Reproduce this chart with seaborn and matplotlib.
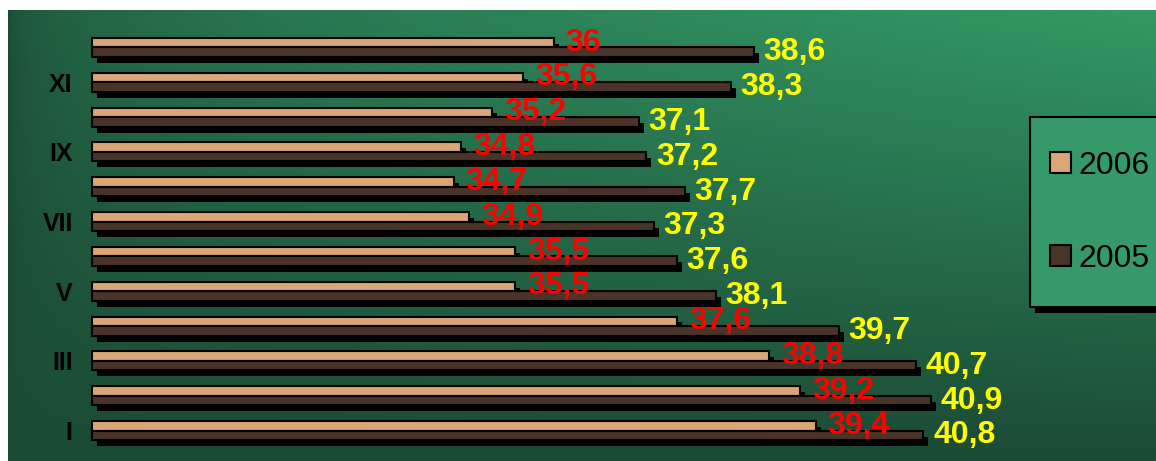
import numpy as np
import pandas as pd
import matplotlib.pyplot as plt
import matplotlib.patheffects as pe
from matplotlib.patches import Patch, Rectangle
import seaborn as sns

# Datos por mes (I..XII)
months = ["I", "II", "III", "IV", "V", "VI", "VII", "VIII", "IX", "X", "XI", "XII"]
v2006 = [39.4, 39.2, 38.8, 37.6, 35.5, 35.5, 34.9, 34.7, 34.8, 35.2, 35.6, 36.0]
v2005 = [40.8, 40.9, 40.7, 39.7, 38.1, 37.6, 37.3, 37.7, 37.2, 37.1, 38.3, 38.6]
years = ["2006", "2005"]

sns.set_style("white")
plt.rcParams['font.family'] = ['Liberation Sans', 'DejaVu Sans']
plt.rcParams['text.color'] = 'black'

tan = '#dba676'
dark = '#4a3328'
sombra = [pe.SimplePatchShadow(offset=(3.6, -4.3), shadow_rgbFace='black', alpha=1), pe.Normal()]

df = pd.DataFrame({
    'mes': months * 2,
    'valor': v2006 + v2005,
    'anio': ['2006'] * 12 + ['2005'] * 12,
})
order = months[::-1]

W, H = 1156, 461
fig = plt.figure(figsize=(W / 100, H / 100), dpi=100)

# fondo verde con degradado
bg = fig.add_axes([8 / W, 0, 1 - 8 / W, 451 / H])
ny, nx = 200, 400
xs = np.linspace(0, 1, nx)[None, :]
ys = np.linspace(0, 1, ny)[:, None]
f = (xs ** 0.4) * (1 - ys)
c0 = np.array([0x1b, 0x4a, 0x34]) / 255
c1 = np.array([0x33, 0x99, 0x66]) / 255
img = c0 + (c1 - c0) * f[..., None]
bg.imshow(img, aspect='auto', extent=(0, 1, 0, 1), origin='upper')
bg.set_axis_off()

ax = fig.add_axes([88 / W, 13 / H, 924 / W, 418 / H])
ax.set_facecolor('none')

sns.barplot(data=df, y='mes', x='valor', hue='anio', order=order,
            hue_order=years, palette={'2006': tan, '2005': dark},
            orient='h', width=0.55, edgecolor='black', linewidth=1.5,
            saturation=1, legend=False, ax=ax)

# las barras arrancan en 30
x0 = 30
for p in ax.patches:
    w = p.get_width()
    p.set_x(x0)
    p.set_width(w - x0)
    p.set_path_effects(sombra)

ax.set_xlim(29.95, 29.95 + 924 / 77)

fmt = lambda v: f"{v:g}".replace('.', ',')
lab06 = [fmt(v2006[months.index(m)]) for m in order]
lab05 = [fmt(v2005[months.index(m)]) for m in order]
ax.bar_label(ax.containers[0], labels=lab06, padding=8.5, color='#ff0000',
             fontsize=23, fontweight='bold')
ax.bar_label(ax.containers[1], labels=lab05, padding=7, color='#ffff00',
             fontsize=23, fontweight='bold')

ticklabs = [m if months.index(m) % 2 == 0 else '' for m in order]
ax.set_yticks(range(len(order)))
ax.set_yticklabels(ticklabs, fontsize=18, fontweight='bold', color='black')
ax.tick_params(axis='y', length=0, pad=11)
ax.set_xticks([])
ax.set_ylabel('')
ax.set_xlabel('')
for s in ax.spines.values():
    s.set_visible(False)

# caja de la leyenda
caja = Rectangle((1030 / W, 1 - 307 / H), 160 / W, 190 / H, transform=fig.transFigure,
                 facecolor='#35996a', edgecolor='black', linewidth=1.5, zorder=1)
caja.set_path_effects(sombra)
fig.patches.append(caja)

handles = [Patch(facecolor=tan, edgecolor='black', linewidth=1.5),
           Patch(facecolor=dark, edgecolor='black', linewidth=1.5)]
leg = fig.legend(handles, years, loc='upper left',
                 bbox_to_anchor=(1050 / W, 1 - 151 / H),
                 fontsize=23, frameon=False, borderaxespad=0, borderpad=0,
                 handlelength=0.65, handleheight=0.65, handletextpad=0.25,
                 labelspacing=1.97, labelcolor='black')

fig.savefig('out.png', dpi=100)
